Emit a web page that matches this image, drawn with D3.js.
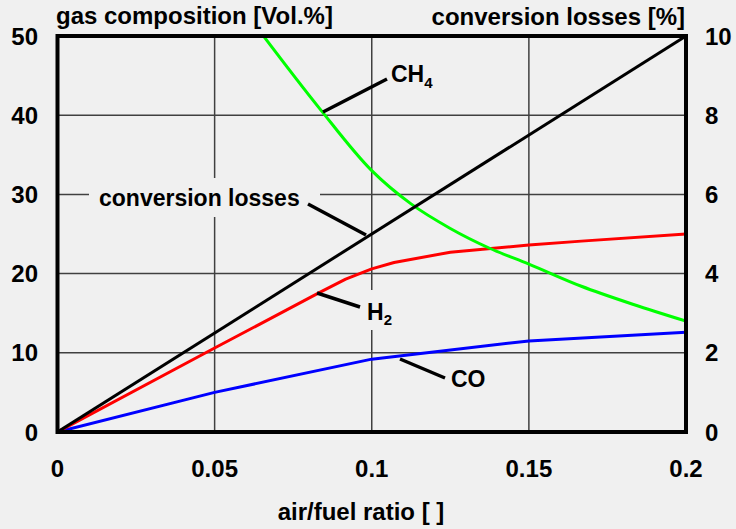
<!DOCTYPE html>
<html>
<head>
<meta charset="utf-8">
<script src="https://cdn.jsdelivr.net/npm/d3@7"></script>
<style>
  html, body { margin: 0; padding: 0; background: #f0f0f0; }
  svg { display: block; }
  text { font-family: "Liberation Sans", Arial, sans-serif; font-weight: bold; fill: #000; }
</style>
</head>
<body>
<svg id="chart" width="736" height="529"></svg>
<script>
// ---- data ----
const xTicks = [0, 0.05, 0.1, 0.15, 0.2];
const xTickLabels = ["0", "0.05", "0.1", "0.15", "0.2"];
const yLeftTicks = [0, 10, 20, 30, 40, 50];
const yRightTicks = [0, 2, 4, 6, 8, 10];

const lossX = [0, 0.2];
const lossVal = [0, 10];            // conversion losses [%] (right axis)

const h2X = [0, 0.05, 0.0833, 0.0917, 0.1, 0.1071, 0.125, 0.15, 0.1667, 0.2];
const h2Val = [0, 10.6, 17.6, 19.3, 20.6, 21.4, 22.7, 23.6, 24.1, 25.0];

const coX = [0, 0.05, 0.1, 0.15, 0.2];
const coVal = [0, 5.0, 9.2, 11.5, 12.6];

const ch4X = [0.0625, 0.0833, 0.1, 0.1125, 0.125, 0.1375, 0.15, 0.1667, 0.1833, 0.2];
const ch4Val = [51.6, 40.9, 33.0, 28.8, 25.7, 23.2, 21.2, 18.4, 16.1, 14.0];

// ---- layout ----
const svg = d3.select("#chart");
const L = 57.5, R = 686, T = 36, B = 432;
const x = d3.scaleLinear().domain([0, 0.2]).range([L, R]);
const yL = d3.scaleLinear().domain([0, 50]).range([B, T]);
const yR = d3.scaleLinear().domain([0, 10]).range([B, T]);

svg.append("rect").attr("width", 736).attr("height", 529).attr("fill", "#f0f0f0");

svg.append("clipPath").attr("id", "clip")
  .append("rect").attr("x", L).attr("y", T).attr("width", R - L).attr("height", B - T);

// grid
const grid = svg.append("g").attr("stroke", "#404040").attr("stroke-width", 1.5);
grid.selectAll("line.v").data(xTicks.slice(1, -1)).join("line")
  .attr("x1", d => x(d)).attr("x2", d => x(d)).attr("y1", T).attr("y2", B);
grid.selectAll("line.h").data(yLeftTicks.slice(1, -1)).join("line")
  .attr("x1", L).attr("x2", R).attr("y1", d => yL(d)).attr("y2", d => yL(d));

// label backgrounds that interrupt grid lines
const bg = svg.append("g").attr("fill", "#f0f0f0");
bg.append("rect").attr("x", 89).attr("y", 178).attr("width", 231).attr("height", 39);
bg.append("rect").attr("x", 363).attr("y", 290).attr("width", 32).attr("height", 40);

// series
const lineGen = (xs, vs, ys, curve) => d3.line()
  .x((d, i) => x(xs[i])).y((d, i) => ys(vs[i])).curve(curve)(vs);

const plot = svg.append("g").attr("clip-path", "url(#clip)").attr("fill", "none")
  .attr("stroke-width", 3).attr("stroke-linejoin", "round");
plot.append("path").attr("stroke", "#0000ff").attr("d", lineGen(coX, coVal, yL, d3.curveLinear));
plot.append("path").attr("stroke", "#ff0000").attr("d", lineGen(h2X, h2Val, yL, d3.curveLinear));
plot.append("path").attr("stroke", "#00ff00").attr("d", lineGen(ch4X, ch4Val, yL, d3.curveMonotoneX));
plot.append("path").attr("stroke", "#000000").attr("d", lineGen(lossX, lossVal, yR, d3.curveLinear));

// frame
svg.append("rect").attr("x", L).attr("y", T).attr("width", R - L).attr("height", B - T)
  .attr("fill", "none").attr("stroke", "#000").attr("stroke-width", 4);

// axes tick labels
svg.append("g").selectAll("text").data(yLeftTicks).join("text")
  .attr("x", 38).attr("y", d => yL(d)).attr("dy", "0.36em")
  .attr("text-anchor", "end").attr("font-size", 24).text(d => d);
svg.append("g").selectAll("text").data(yRightTicks).join("text")
  .attr("x", 705).attr("y", d => yR(d)).attr("dy", "0.36em")
  .attr("text-anchor", "start").attr("font-size", 24).text(d => d);
svg.append("g").selectAll("text").data(xTicks).join("text")
  .attr("x", d => x(d)).attr("y", 477)
  .attr("text-anchor", "middle").attr("font-size", 24).text((d, i) => xTickLabels[i]);

// axis titles
svg.append("text").attr("x", 56).attr("y", 24).attr("font-size", 24).text("gas composition [Vol.%]");
svg.append("text").attr("x", 685).attr("y", 25).attr("text-anchor", "end").attr("font-size", 24).text("conversion losses [%]");
svg.append("text").attr("x", 361).attr("y", 520).attr("text-anchor", "middle").attr("font-size", 24).text("air/fuel ratio [ ]");

// annotations
const lead = svg.append("g").attr("stroke", "#000").attr("stroke-width", 3.5);
lead.append("line").attr("x1", 323).attr("y1", 112).attr("x2", 387).attr("y2", 79);
lead.append("line").attr("x1", 308).attr("y1", 204).attr("x2", 366).attr("y2", 235);
lead.append("line").attr("x1", 317).attr("y1", 293).attr("x2", 360).attr("y2", 307);
lead.append("line").attr("x1", 400).attr("y1", 359).attr("x2", 445).attr("y2", 378);

const ch4 = svg.append("text").attr("x", 391).attr("y", 82).attr("font-size", 23);
ch4.append("tspan").text("CH");
ch4.append("tspan").attr("font-size", 15).attr("dy", 6).text("4");

svg.append("text").attr("x", 99).attr("y", 206).attr("font-size", 23).text("conversion losses");

const h2 = svg.append("text").attr("x", 367).attr("y", 320).attr("font-size", 23);
h2.append("tspan").text("H");
h2.append("tspan").attr("font-size", 15).attr("dy", 5).text("2");

svg.append("text").attr("x", 451).attr("y", 387).attr("font-size", 23).text("CO");
</script>
</body>
</html>
